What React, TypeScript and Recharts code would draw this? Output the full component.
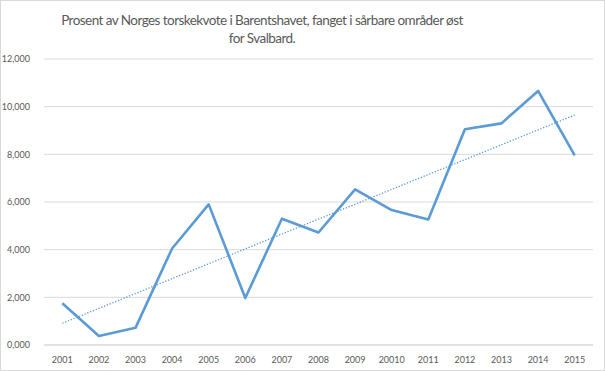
import React from "react";
import {
    LineChart,
    Line,
    XAxis,
    YAxis,
    CartesianGrid,
} from "recharts";

// years as printed on the original axis (note the "20010" typo)
const yearLabels = [
    "2001", "2002", "2003", "2004", "2005", "2006", "2007", "2008",
    "2009", "20010", "2011", "2012", "2013", "2014", "2015",
];

// percent of the quota
const percentValues = [
    1.75, 0.38, 0.72, 4.05, 5.9, 1.97, 5.3, 4.72,
    6.53, 5.66, 5.27, 9.05, 9.3, 10.66, 7.96,
];

const yTicks = [0, 2, 4, 6, 8, 10, 12];
const yTickLabels = ["0,000", "2,000", "4,000", "6,000", "8,000", "10,000", "12,000"];

const titleLines = [
    "Prosent av Norges torskekvote i Barentshavet, fanget i sårbare områder øst",
    "for Svalbard.",
];

// least squares trend line, like Excel's linear trendline
const n = percentValues.length;
const meanX = (n - 1) / 2;
const meanY = percentValues.reduce((a, b) => a + b, 0) / n;
let sxy = 0;
let sxx = 0;
percentValues.forEach((v, i) => {
    sxy += (i - meanX) * (v - meanY);
    sxx += (i - meanX) * (i - meanX);
});
const slope = sxy / sxx;

const data = yearLabels.map((year, i) => ({
    year,
    value: percentValues[i],
    trend: meanY + slope * (i - meanX),
}));

const font = "Lato, 'Liberation Sans', Arial, sans-serif";
const tickStyle = { fill: "#595959", fontSize: 9, fontFamily: font };

const App = () => {
    return (
        <div
            style={{
                position: "relative",
                width: 605,
                height: 371,
                boxSizing: "border-box",
                border: "1px solid #d9d9d9",
                background: "#fff",
                fontFamily: font,
            }}
        >
            <style>{`body{margin:0}`}</style>
            <div
                style={{
                    position: "absolute",
                    left: 0,
                    top: 10,
                    width: 522,
                    textAlign: "center",
                    fontSize: 13.5,
                    letterSpacing: "-0.55px",
                    lineHeight: "18px",
                    color: "#595959",
                }}
            >
                {titleLines.map((t) => (
                    <div key={t}>{t}</div>
                ))}
            </div>
            <LineChart
                width={603}
                height={369}
                data={data}
                margin={{ top: 58, right: 11, left: 0, bottom: 0 }}
            >
                <CartesianGrid vertical={false} stroke="#d9d9d9" />
                <XAxis
                    dataKey="year"
                    interval={0}
                    height={25}
                    padding={{ left: 18.3, right: 18.3 }}
                    tickLine={false}
                    axisLine={{ stroke: "#d9d9d9" }}
                    tick={tickStyle}
                    tickMargin={6}
                />
                <YAxis
                    domain={[0, 12]}
                    ticks={yTicks}
                    width={43}
                    tickLine={false}
                    axisLine={false}
                    tickFormatter={(v: number) => yTickLabels[yTicks.indexOf(v)]}
                    tick={tickStyle}
                    tickMargin={8}
                />
                <Line
                    dataKey="value"
                    stroke="#5b9bd5"
                    strokeWidth={2.6}
                    dot={false}
                    strokeLinejoin="round"
                    isAnimationActive={false}
                />
                <Line
                    dataKey="trend"
                    stroke="#5b9bd5"
                    strokeWidth={1.3}
                    strokeDasharray="1.3 1.7"
                    dot={false}
                    isAnimationActive={false}
                />
            </LineChart>
        </div>
    );
};

export default App;
